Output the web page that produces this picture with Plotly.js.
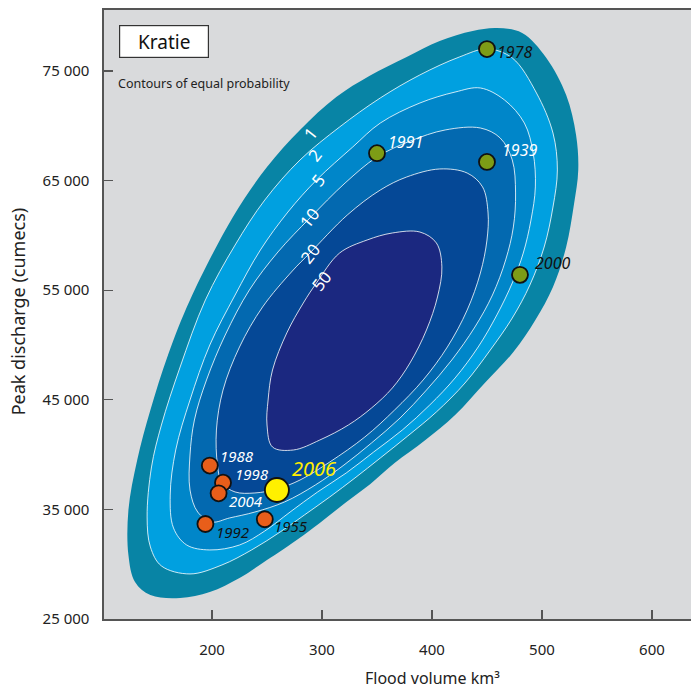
<!DOCTYPE html>
<html>
<head>
<meta charset="utf-8">
<script src="https://cdn.plot.ly/plotly-3.0.1.min.js"></script>
<style>html,body{margin:0;padding:0;background:#fff}#chart{width:691px;height:688px}</style>
</head>
<body>
<div id="chart"></div>
<script>
// ---- Contour outlines (flood volume km3, peak discharge cumecs) ----
const c1x = [459,482,504,522,531,533,529,522,510,494,474,448,421,394,366,344,321,298,277,246,225,198,171,144,130,124,124,132,144,160,180,219,250,280,313,343,377,407,437];
const c1y = [78920,78470,76190,72810,69160,65970,62770,58940,55290,52280,49360,46530,43610,41330,39230,37320,35580,33760,32210,30110,28740,27460,26920,27190,28380,30840,34950,39510,44070,49090,54110,61680,66240,69620,72620,74540,76280,77740,78650];

const c2x = [450,473,495,510,514,510,502,489,473,453,430,404,378,353,330,307,284,262,236,209,180,154,144,141,145,154,171,194,221,248,280,316,353,389,425];
const c2y = [77010,76190,72990,69340,65970,62590,58940,55470,52460,49540,46530,43890,41700,39690,37870,36130,34490,32940,31300,29930,29110,29840,31570,34310,38870,42700,47990,54110,59120,63230,66880,69890,72540,74640,76280];

const c5x = [444,466,484,492,494,490,483,473,459,442,421,398,373,347,322,296,271,248,225,198,177,165,162,167,180,198,221,244,269,295,328,353,389,421];
const c5y = [73450,72350,70250,67520,64420,61400,58390,55660,52740,49820,46990,44530,42240,40240,38320,36590,34760,33030,31750,31300,31750,33300,36310,40420,44980,50000,54560,58670,62130,65050,68070,70250,72080,73080];

const c10x = [444,462,473,476,474,467,455,439,418,395,371,345,320,294,266,239,216,200,187,180,180,184,195,212,234,260,289,321,350,380,412];
const c10y = [69800,68890,66880,63870,60770,57760,54560,51640,48630,45890,43340,41060,39050,37230,35680,34760,34220,33850,34760,36770,39960,43160,46810,50910,55020,58490,61590,64780,67150,68600,69620];

const c20x = [407,432,446,451,450,444,432,414,392,366,339,307,280,259,239,221,209,205,204,210,225,246,273,289,323,353,377];
const c20y = [66060,65690,64420,62040,59580,56570,53190,49820,46810,44070,41610,39320,37680,36860,36500,36590,37410,39050,42240,45890,49820,53470,56750,58390,61860,64140,65330];

const c50x = [255,250,251,255,268,283,295,316,341,364,389,404,409,405,395,380,364,345,324,298,274];
const c50y = [40690,42700,44980,47720,51100,53830,55660,58390,59580,60220,60310,59310,57120,54380,51370,48360,46080,44250,42700,41330,40420];

const contourLevels = ["1", "2", "5", "10", "20", "50"];
const contourLabelX = [289, 294, 296, 289, 289, 300];
const contourLabelY = [69340, 67340, 65050, 61590, 58390, 55840];

// ---- Flood years ----
const greenYears = ["1978", "1991", "1939", "2000"];
const greenVol   = [450, 350, 450, 480];
const greenPeak  = [77000, 67500, 66700, 56400];

const orangeYears = ["1988", "1998", "2004", "1992", "1955"];
const orangeVol   = [198, 210, 206, 194, 248];
const orangePeak  = [39000, 37440, 36470, 33670, 34100];

const yellowYears = ["2006"];
const yellowVol   = [259];
const yellowPeak  = [36770];

const xTicks = [200, 300, 400, 500, 600];
const yTicks = [25000, 35000, 45000, 55000, 65000, 75000];
const yTickText = ["25 000", "35 000", "45 000", "55 000", "65 000", "75 000"];

// ---- styles ----
const FONT = "Noto Sans, Open Sans, sans-serif";
const bandColors = ["#0884a5", "#00a0e0", "#0086c9", "#0369b0", "#054896", "#1b2880"];
const labelStyle = {
  "1978": {dx: 8,  dy: -3,  color: "#111"},
  "1991": {dx: 9,  dy: 11,  color: "#fff"},
  "1939": {dx: 13, dy: 12,  color: "#fff"},
  "2000": {dx: 13, dy: 12,  color: "#111"},
  "1988": {dx: 8,  dy: 10,  color: "#fff"},
  "1998": {dx: 10, dy: 9,   color: "#fff"},
  "2004": {dx: 8,  dy: -8,  color: "#fff"},
  "1992": {dx: 9,  dy: -8,  color: "#111"},
  "1955": {dx: 7,  dy: -7,  color: "#111"},
  "2006": {dx: 13, dy: 22,  color: "#ffee00"}
};

function closed(a) { return a.concat([a[0]]); }
const contourX = [c1x, c2x, c5x, c10x, c20x, c50x];
const contourY = [c1y, c2y, c5y, c10y, c20y, c50y];

const traces = [];
contourX.forEach((cx, i) => {
  traces.push({
    type: "scatter", mode: "lines",
    x: closed(cx), y: closed(contourY[i]),
    fill: "toself", fillcolor: bandColors[i],
    line: {shape: "spline", smoothing: 1.0, width: i === 0 ? 0 : 1,
           color: i === 0 ? bandColors[0] : "rgba(255,255,255,0.8)"},
    hoverinfo: "skip", showlegend: false
  });
});

function markerTrace(xs, ys, color, size) {
  return {type: "scatter", mode: "markers", x: xs, y: ys,
    marker: {color: color, size: size, line: {color: "#111", width: 1.8}},
    hoverinfo: "skip", showlegend: false, cliponaxis: false};
}
traces.push(markerTrace(greenVol, greenPeak, "#7d9c16", 16));
traces.push(markerTrace(orangeVol, orangePeak, "#e85e1a", 16));
traces.push(markerTrace(yellowVol, yellowPeak, "#fff000", 24));

const annotations = [];
function addYearLabels(years, xs, ys, size) {
  years.forEach((yr, i) => {
    const s = labelStyle[yr];
    annotations.push({x: xs[i], y: ys[i], xref: "x", yref: "y",
      text: "<i>" + yr + "</i>", showarrow: false,
      xanchor: "left", yanchor: "middle", xshift: s.dx, yshift: s.dy,
      font: {family: FONT, size: size, color: s.color}});
  });
}
addYearLabels(greenYears, greenVol, greenPeak, 16);
addYearLabels(orangeYears, orangeVol, orangePeak, 15);
addYearLabels(yellowYears, yellowVol, yellowPeak, 20);

contourLevels.forEach((lv, i) => {
  annotations.push({x: contourLabelX[i], y: contourLabelY[i], xref: "x", yref: "y",
    text: lv, showarrow: false, textangle: -52,
    font: {family: FONT, size: 17, color: "#ffffff"}});
});

annotations.push({xref: "paper", yref: "paper", x: 0.1014, y: 0.949,
  text: "Kratie", showarrow: false, bgcolor: "#ffffff", bordercolor: "#333",
  borderwidth: 1.2, width: 86, height: 29, xanchor: "center", yanchor: "middle",
  font: {family: FONT, size: 19, color: "#111"}});
annotations.push({xref: "paper", yref: "paper", x: 0.0204, y: 0.880,
  text: "Contours of equal probability", showarrow: false,
  xanchor: "left", yanchor: "middle",
  font: {family: FONT, size: 12.5, color: "#222"}});
annotations.push({xref: "paper", yref: "paper", x: 0.559, y: -0.097,
  text: "Flood volume km³", showarrow: false, xanchor: "center", yanchor: "middle",
  font: {family: FONT, size: 16, color: "#222"}});
annotations.push({xref: "paper", yref: "paper", x: -0.145, y: 0.505,
  text: "Peak discharge (cumecs)", showarrow: false, textangle: -90,
  xanchor: "center", yanchor: "middle",
  font: {family: FONT, size: 18, color: "#222"}});

const layout = {
  width: 691, height: 688,
  margin: {l: 104, r: 0, t: 10, b: 69, pad: 0},
  paper_bgcolor: "#ffffff", plot_bgcolor: "#d9dadc",
  showlegend: false,
  xaxis: {range: [101.8, 635.5], tickvals: xTicks, ticks: "inside", ticklen: 9,
    tickcolor: "#555", tickwidth: 1.2, showgrid: false, zeroline: false,
    showline: true, linecolor: "#555", linewidth: 1.6, mirror: true,
    ticklabelstandoff: 16,
    tickfont: {family: FONT, size: 15, color: "#222"}},
  yaxis: {range: [25000, 80565], tickvals: yTicks, ticktext: yTickText,
    ticks: "inside", ticklen: 9, tickcolor: "#555", tickwidth: 1.2,
    showgrid: false, zeroline: false, showline: true, linecolor: "#555", linewidth: 1.6,
    ticklabelstandoff: 10,
    tickfont: {family: FONT, size: 15, color: "#222"}},
  annotations: annotations
};

Plotly.newPlot("chart", traces, layout, {staticPlot: true, displayModeBar: false});
</script>
</body>
</html>
